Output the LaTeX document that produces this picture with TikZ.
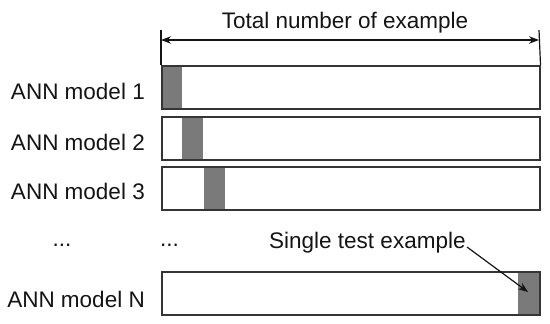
\documentclass[tikz,border=0pt]{standalone}
\usepackage{fontspec}
\setmainfont{Liberation Sans}
\usetikzlibrary{arrows.meta}
\definecolor{cellgray}{HTML}{7A7A7A}
\definecolor{edge}{HTML}{353535}
\definecolor{ink}{HTML}{141414}
\begin{document}
\begin{tikzpicture}[x=1bp,y=-1bp,
  lbl/.style={font=\fontsize{22.5bp}{26bp}\selectfont, text=ink, inner sep=0pt},
  barbox/.style={draw=edge, line width=1.5bp, minimum width=378bp, minimum height=43bp, inner sep=0pt, anchor=north west},
  cell/.style={fill=cellgray, minimum width=21bp, minimum height=43bp, inner sep=0pt, anchor=north west},
  tip/.style={Stealth[length=10bp,width=7.5bp]},
  arr/.style={draw=ink, line width=1.2bp, -{Stealth[length=10bp,width=7.5bp]}}
]
\useasboundingbox (0,0) rectangle (550,323);
% grey cells
\node[cell] (c1) at (161,65) {};
\node[cell] (c2) at (182,116) {};
\node[cell] (c3) at (204,166) {};
\node[cell] (cN) at (518,271) {};
% bars
\node[barbox] (b1) at (161,65) {};
\node[barbox] (b2) at (161,116) {};
\node[barbox] (b3) at (161,166) {};
\node[barbox] (bN) at (161,271) {};
% labels
\node[lbl, anchor=base east] (l1) at (145,99) {ANN model 1};
\node[lbl, anchor=base east] (l2) at (145,150) {ANN model 2};
\node[lbl, anchor=base east] (l3) at (145,199) {ANN model 3};
\node[lbl, anchor=base east] (lN) at (145,307) {ANN model N};
\node[lbl, anchor=base] (d1) at (62,246) {...};
\node[lbl, anchor=base west] (d2) at (160,246) {...};
\node[lbl, anchor=base west] (tst) at (269,248) {Single test example};
\node[lbl, anchor=base] (tot) at (345,28) {Total number of example};
% dimension line
\coordinate (tl) at (161,30);
\coordinate (tr) at (539,30);
\draw[draw=ink, line width=1.2bp] (tl) -- (b1.north west);
\draw[draw=ink, line width=1.2bp] (tr) -- (b1.north east);
\coordinate (al) at (161,40);
\coordinate (ar) at (539,40);
\draw[draw=ink, line width=1.2bp, {Stealth[length=10bp,width=7.5bp]}-{Stealth[length=10bp,width=7.5bp]}] (al) -- (ar);
% pointer
\coordinate (ps) at (467,247);
\coordinate (pt) at (528,292);
\draw[arr] (ps) -- (pt);
\end{tikzpicture}
\end{document}
